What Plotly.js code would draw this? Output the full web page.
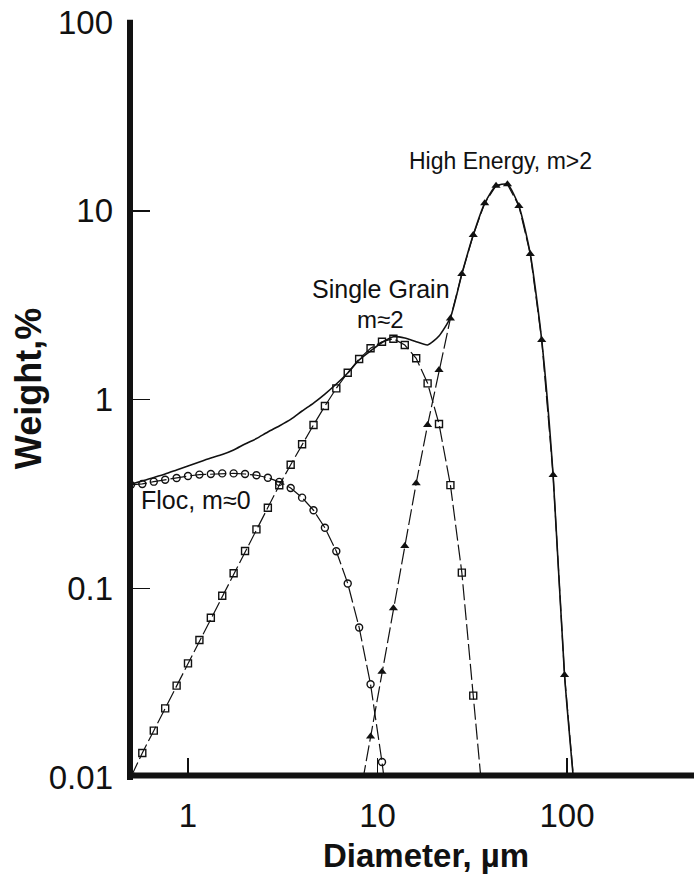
<!DOCTYPE html>
<html>
<head>
<meta charset="utf-8">
<script src="https://cdn.plot.ly/plotly-3.0.1.min.js"></script>
<style>
  html, body { margin: 0; padding: 0; background: #ffffff; }
  #chart { width: 694px; height: 881px; }
</style>
</head>
<body>
<div id="chart"></div>
<script>
// Diameter grid (µm)
const diameter = [0.5, 0.574, 0.66, 0.758, 0.871, 1.0, 1.149, 1.32, 1.516, 1.741,
                  2.0, 2.297, 2.639, 3.031, 3.482, 4.0, 4.595, 5.278, 6.063, 6.964,
                  8.0, 9.19, 10.56, 12.13, 13.93, 16.0, 18.38, 21.11, 24.25, 27.86,
                  32.0, 36.76, 42.22, 48.5, 55.72, 64.0, 73.52, 84.45, 97.0, 111.4];

// Floc, m≈0 (open circles)
const flocWeight = [0.353, 0.357, 0.367, 0.376, 0.384, 0.393, 0.400, 0.403, 0.406, 0.406,
                    0.403, 0.397, 0.385, 0.366, 0.340, 0.302, 0.259, 0.209, 0.157, 0.106,
                    0.062, 0.031, 0.012, 0.004, null, null, null, null, null, null,
                    null, null, null, null, null, null, null, null, null, null];

// Single Grain, m≈2 (open squares)
const singleWeight = [0.0100, 0.0134, 0.0176, 0.0231, 0.0305, 0.0400, 0.0532, 0.0698, 0.0913, 0.120,
                      0.1575, 0.2052, 0.2672, 0.351, 0.4514, 0.579, 0.733, 0.924, 1.146, 1.387,
                      1.639, 1.867, 2.024, 2.099, 1.944, 1.653, 1.218, 0.742, 0.352, 0.121,
                      0.027, 0.006, null, null, null, null, null, null, null, null];

// High Energy, m>2 (filled triangles)
const highWeight = [null, null, null, null, null, null, null, null, null, null,
                    null, null, null, null, null, null, null, null, null, null,
                    0.0075, 0.0164, 0.0361, 0.0783, 0.1675, 0.36, 0.733, 1.433, 2.69, 4.62,
                    7.44, 10.95, 13.57, 13.8, 10.6, 5.9, 2.067, 0.398, 0.0347, 0.007];

// Total (solid line, no markers)
const totalWeight = [0.357, 0.370, 0.386, 0.403, 0.423, 0.444, 0.467, 0.490, 0.511, 0.540,
                     0.581, 0.621, 0.673, 0.724, 0.784, 0.869, 0.958, 1.069, 1.208, 1.382,
                     1.619, 1.807, 2.004, 2.151, 2.117, 2.024, 1.944, 2.170, 2.72, 4.62,
                     7.44, 10.95, 13.57, 13.8, 10.6, 5.9, 2.067, 0.398, 0.0347, 0.007];

const xTickVals = [1, 10, 100];
const xTickText = ["1", "10", "100"];
const yTickVals = [0.01, 0.1, 1, 10, 100];
const yTickText = ["0.01", "0.1", "1", "10", "100"];

const FONT = '"Liberation Sans", Arial, Helvetica, sans-serif';
const dashStyle = "16px,4px";

const traces = [
  {
    x: diameter, y: flocWeight, name: "Floc", type: "scatter", mode: "lines+markers",
    line: {color: "#111", width: 1.2, dash: dashStyle},
    marker: {symbol: "circle-open", size: 7, color: "#111", line: {width: 1.4}},
    connectgaps: false
  },
  {
    x: diameter, y: singleWeight, name: "Single Grain", type: "scatter", mode: "lines+markers",
    line: {color: "#111", width: 1.2, dash: dashStyle},
    marker: {symbol: "square-open", size: 7, color: "#111", line: {width: 1.4}},
    connectgaps: false
  },
  {
    x: diameter, y: highWeight, name: "High Energy", type: "scatter", mode: "lines+markers",
    line: {color: "#111", width: 1.2, dash: dashStyle},
    marker: {symbol: "triangle-up", size: 8, color: "#111"},
    connectgaps: false
  },
  {
    x: diameter, y: totalWeight, name: "Total", type: "scatter", mode: "lines",
    line: {color: "#111", width: 1.6, shape: "spline", smoothing: 0.6}
  }
];

const layout = {
  width: 694, height: 881,
  margin: {l: 130, r: 0, t: 22, b: 104, pad: 0},
  paper_bgcolor: "#ffffff", plot_bgcolor: "#ffffff",
  showlegend: false,
  font: {family: FONT, color: "#111"},
  xaxis: {
    type: "log", range: [-0.306, 2.670],
    tickvals: xTickVals, ticktext: xTickText,
    ticks: "inside", ticklen: 19, tickwidth: 1.5, tickcolor: "#111",
    tickfont: {family: FONT, size: 33, color: "#111"},
    ticklabelstandoff: 16,
    showgrid: false, zeroline: false, showline: false
  },
  yaxis: {
    type: "log", range: [-2, 2],
    tickvals: yTickVals, ticktext: yTickText,
    ticks: "inside", ticklen: 20, tickwidth: 1.5, tickcolor: "#111",
    tickfont: {family: FONT, size: 33, color: "#111"},
    ticklabelstandoff: 16,
    showgrid: false, zeroline: false, showline: false
  },
  shapes: [
    {type: "line", xref: "paper", yref: "paper", x0: 0, x1: 0, y0: -0.004, y1: 1.003,
     line: {color: "#111", width: 6}},
    {type: "line", xref: "paper", yref: "paper", x0: -0.005, x1: 1, y0: 0.002, y1: 0.002,
     line: {color: "#111", width: 6}}
  ],
  annotations: [
    {text: "High Energy, m>2", xref: "paper", yref: "paper", x: 0.6578, y: 0.8159,
     xanchor: "center", yanchor: "middle", showarrow: false,
     font: {family: FONT, size: 23, color: "#111"}},
    {text: "Single Grain", xref: "paper", yref: "paper", x: 0.4459, y: 0.6457,
     xanchor: "center", yanchor: "middle", showarrow: false,
     font: {family: FONT, size: 25, color: "#111"}},
    {text: "m≈2", xref: "paper", yref: "paper", x: 0.4447, y: 0.6057,
     xanchor: "center", yanchor: "middle", showarrow: false,
     font: {family: FONT, size: 24, color: "#111"}},
    {text: "Floc, m≈0", xref: "paper", yref: "paper", x: 0.0168, y: 0.3669,
     xanchor: "left", yanchor: "middle", showarrow: false,
     font: {family: FONT, size: 25, color: "#111"}},
    {text: "<b>Diameter, µm</b>", xref: "paper", yref: "paper", x: 0.5245, y: -0.1046,
     xanchor: "center", yanchor: "middle", showarrow: false,
     font: {family: FONT, size: 33, color: "#111"}},
    {text: "<b>Weight,%</b>", xref: "paper", yref: "paper", x: -0.1809, y: 0.515,
     xanchor: "center", yanchor: "middle", showarrow: false, textangle: -90,
     font: {family: FONT, size: 36, color: "#111"}}
  ]
};

Plotly.newPlot("chart", traces, layout, {displayModeBar: false, staticPlot: true});
</script>
</body>
</html>
